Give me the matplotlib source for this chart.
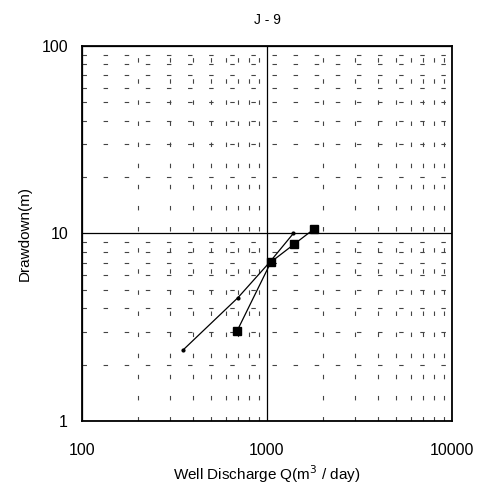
import matplotlib
matplotlib.use("Agg")
import matplotlib.pyplot as plt
from matplotlib.ticker import FixedLocator, NullFormatter

plt.rcParams["font.family"] = ["Liberation Sans", "DejaVu Sans"]

# Step test series (well discharge m3/day, drawdown m)
stepQ_a    = [689, 1051, 1400, 1803]
drawdown_a = [3.02, 7.05, 8.76, 10.6]

stepQ_b    = [350, 697, 1030, 1387]
drawdown_b = [2.38, 4.55, 7.0, 10.0]

xTicks      = [100, 1000, 10000]
yTicks      = [1, 10, 100]
xMinorTicks = [m * d for d in (100, 1000) for m in range(2, 10)]
yMinorTicks = [m * d for d in (1, 10) for m in range(2, 10)]

figure = plt.figure(figsize=(4.84, 4.95), dpi=100)
axes   = figure.add_axes([0.1694, 0.1495, 0.7645, 0.7576])

axes.set_xscale("log")
axes.set_yscale("log")
axes.set_xlim(100, 10000)
axes.set_ylim(1, 100)

# Minor grid: sparse dashes, major grid: solid lines.
axes.xaxis.set_major_locator(FixedLocator(xTicks))
axes.yaxis.set_major_locator(FixedLocator(yTicks))
axes.xaxis.set_minor_locator(FixedLocator(xMinorTicks))
axes.yaxis.set_minor_locator(FixedLocator(yMinorTicks))
axes.xaxis.set_minor_formatter(NullFormatter())
axes.yaxis.set_minor_formatter(NullFormatter())
axes.set_xticklabels([str(t) for t in xTicks])
axes.set_yticklabels([str(t) for t in yTicks])

axes.grid(which="major", color="black", linewidth=0.9, linestyle="-")
axes.grid(which="minor", color="#444444", linewidth=0.8, linestyle=(0, (4, 15)))
axes.set_axisbelow(True)

axes.tick_params(which="both", length=0, labelsize=11.5)
axes.tick_params(axis="x", pad=16)
axes.tick_params(axis="y", pad=10)
for spine in axes.spines.values():
    spine.set_linewidth(1.3)

axes.plot(stepQ_a, drawdown_a, color="black", linewidth=0.9,
          marker="s", markersize=5.5, zorder=3)
axes.plot(stepQ_b, drawdown_b, color="black", linewidth=0.9,
          marker="o", markersize=2.0, zorder=3)

axes.set_title("J - 9", fontsize=10, pad=16)
axes.set_xlabel("Well Discharge Q(m$^3$ / day)", fontsize=11, labelpad=4)
axes.set_ylabel("Drawdown(m)", fontsize=11, labelpad=7)

figure.savefig("out.png", dpi=100)
